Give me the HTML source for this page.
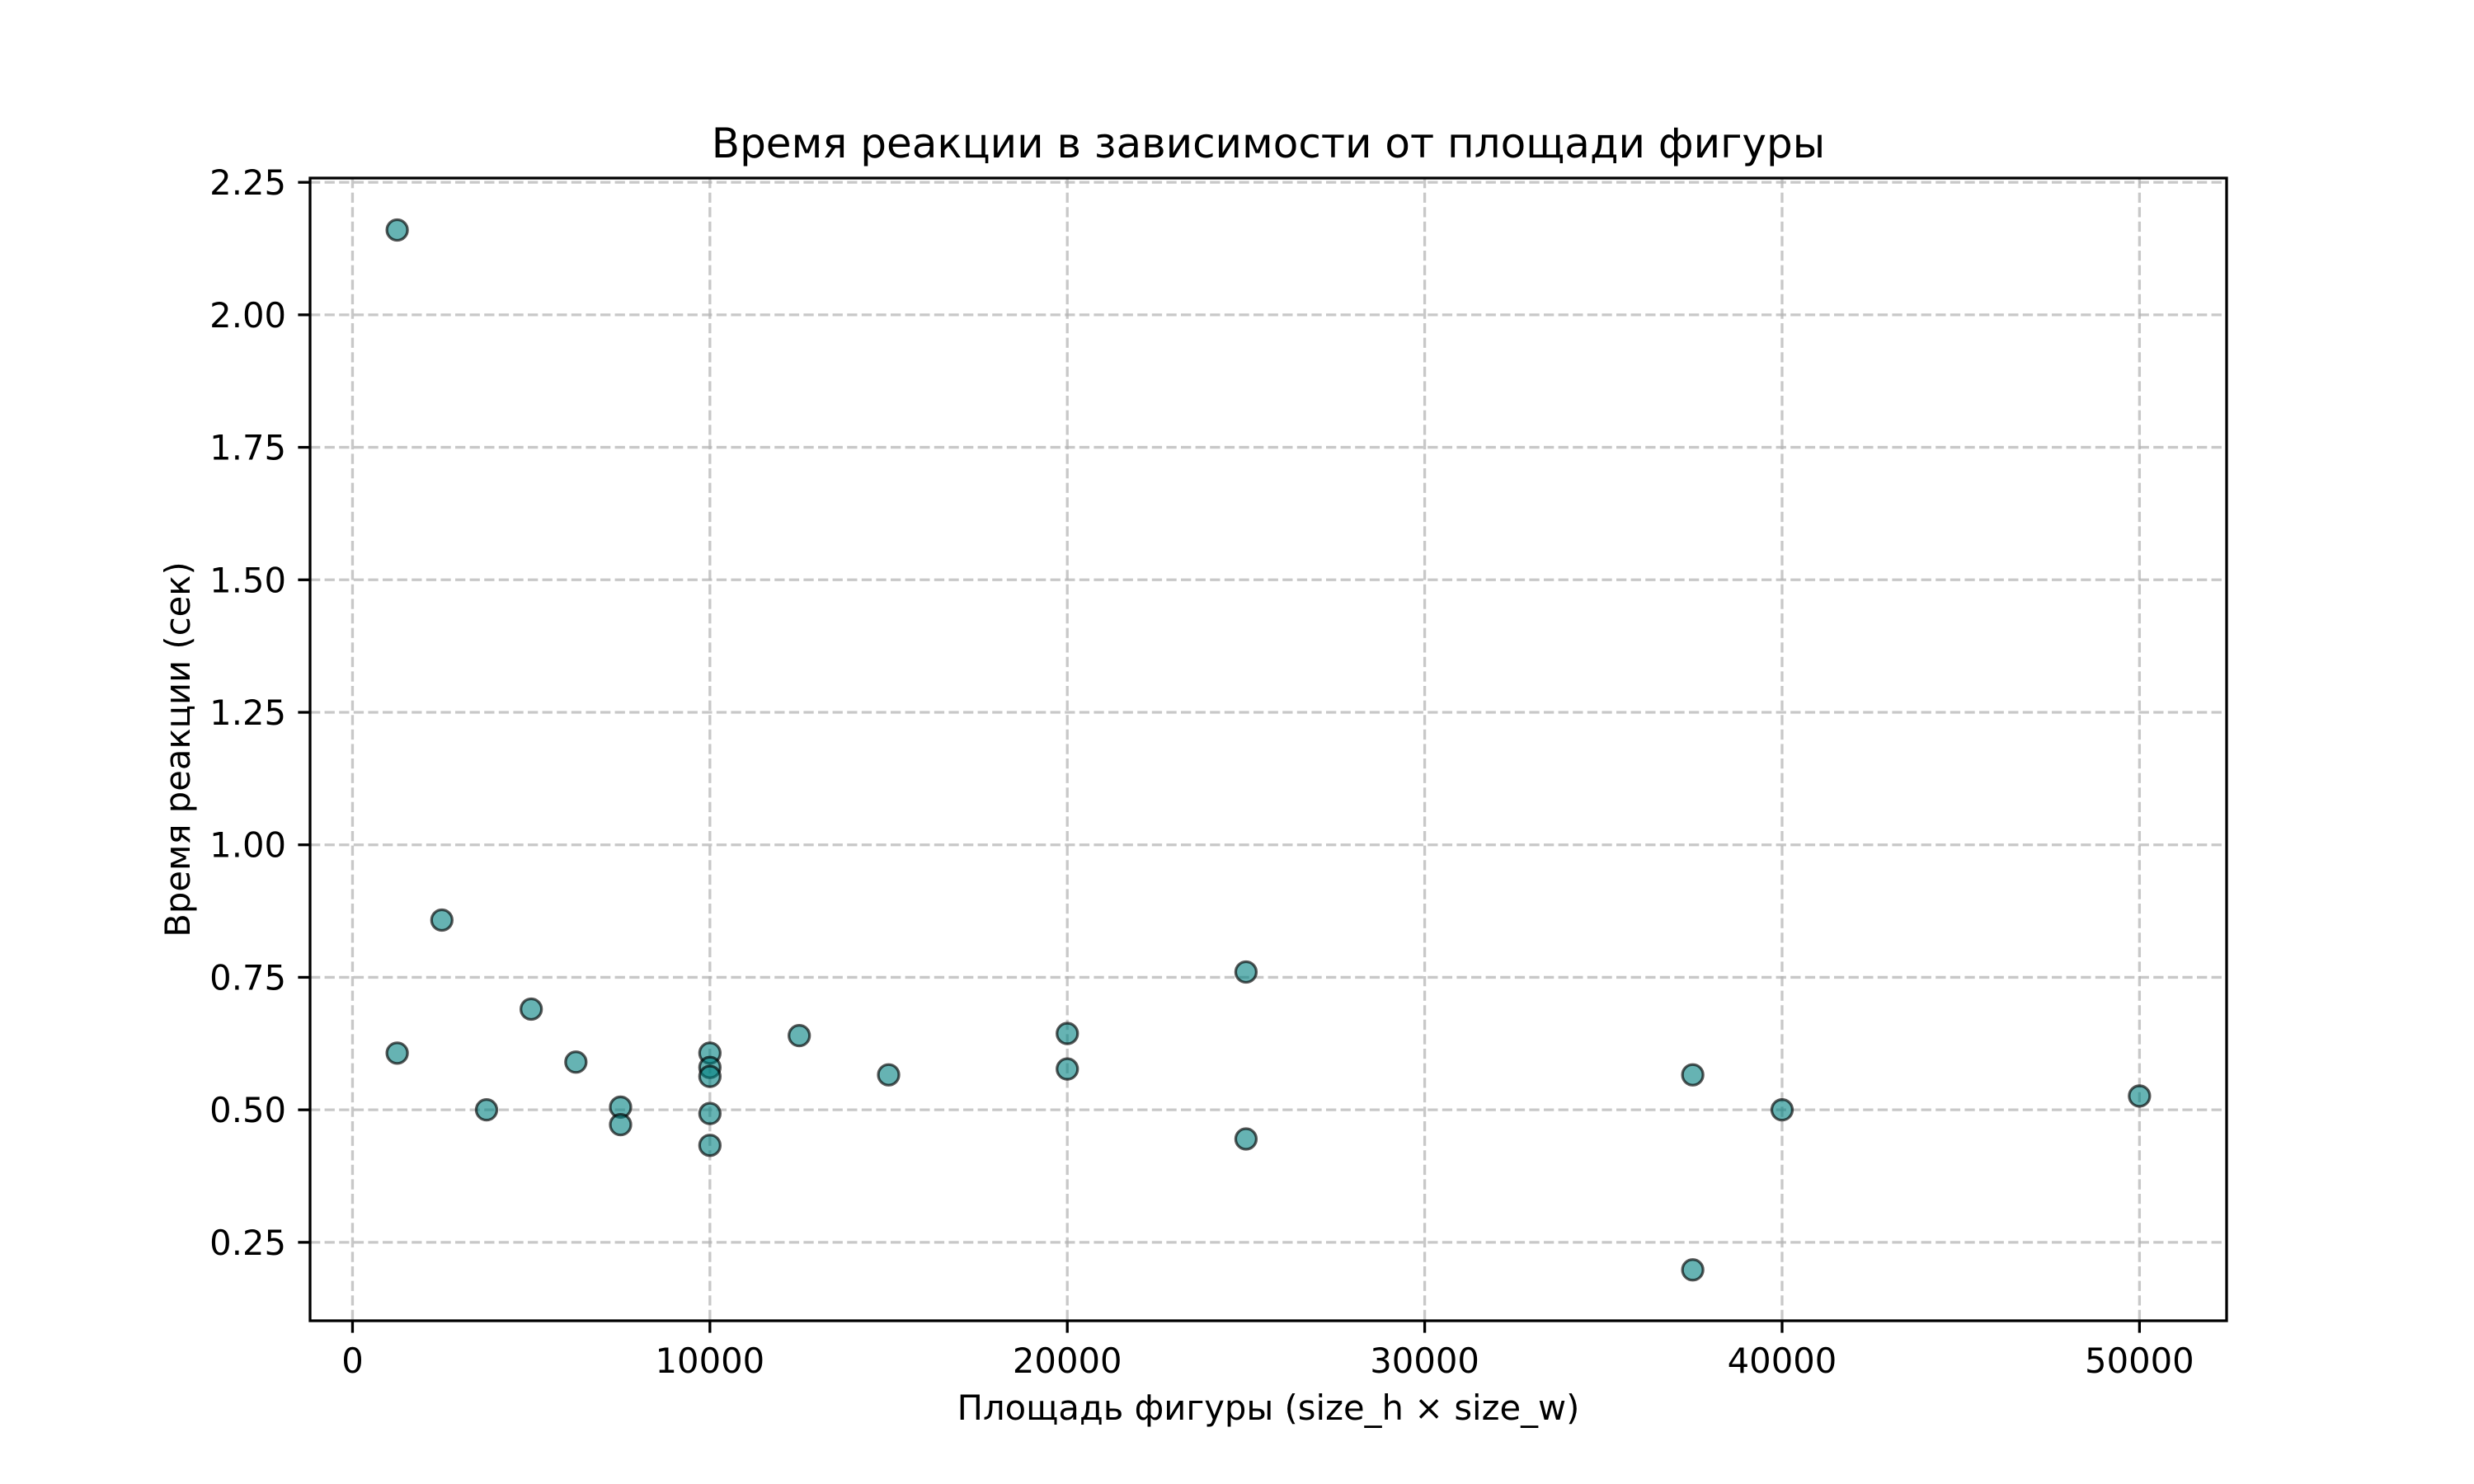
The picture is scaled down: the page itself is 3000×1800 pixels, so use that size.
<!DOCTYPE html>
<html><head><meta charset="utf-8"><style>
html,body{margin:0;padding:0;background:#fff;}
svg{display:block;font-family:"DejaVu Sans","Liberation Sans",sans-serif;}
</style></head><body>
<svg id="chart" width="3000" height="1800" viewBox="0 0 3000 1800" xmlns="http://www.w3.org/2000/svg">
<rect width="3000" height="1800" fill="#fff"/>
<g id="grid"></g>
<g id="points"></g>
<g id="axes"></g>
<text x="1538" y="191" text-anchor="middle" font-size="50">Время реакции в зависимости от площади фигуры</text>
<text x="1538" y="1722" text-anchor="middle" font-size="41.7">Площадь фигуры (size_h × size_w)</text>
<text transform="translate(230,909) rotate(-90)" text-anchor="middle" font-size="41.7">Время реакции (сек)</text>
</svg>
<script>
const areas = [1250,1250,2500,3750,5000,6250,7500,7500,10000,10000,10000,10000,10000,12500,15000,20000,20000,25000,25000,37500,37500,40000,50000];
const times = [2.16,0.607,0.858,0.50,0.69,0.59,0.505,0.472,0.607,0.58,0.563,0.493,0.433,0.64,0.566,0.644,0.577,0.76,0.445,0.566,0.198,0.50,0.526];
const xTicks = [0,10000,20000,30000,40000,50000];
const yTicks = [0.25,0.50,0.75,1.00,1.25,1.50,1.75,2.00,2.25];

const L=376,R=2700,T=216,B=1602;
const xMin=-1187.5,xMax=52437.5,yMin=0.102,yMax=2.258;
function sx(v){return L+(v-xMin)/(xMax-xMin)*(R-L);}
function sy(v){return B-(v-yMin)/(yMax-yMin)*(B-T);}
const NS='http://www.w3.org/2000/svg';
function mk(tag,attrs,parent){const e=document.createElementNS(NS,tag);for(const k in attrs)e.setAttribute(k,attrs[k]);parent.appendChild(e);return e;}
const grid=document.getElementById('grid'),pts=document.getElementById('points'),axes=document.getElementById('axes');
xTicks.forEach(v=>{
  const x=sx(v);
  const g=mk('line',{x1:x,x2:x,y1:T,y2:B,stroke:'#b0b0b0','stroke-opacity':0.7,'stroke-width':3.3,'stroke-dasharray':'12.3 5.3'},grid);
  
  
  const t=mk('line',{x1:x,x2:x,y1:B,y2:B+14.6,stroke:'#000','stroke-width':3.3},axes);
  
  
  const lb=mk('text',{x:x,y:B+63,'text-anchor':'middle','font-size':41.7},axes);
  lb.textContent=String(v);
  
  
});
yTicks.forEach(v=>{
  const y=sy(v);
  const g=mk('line',{x1:L,x2:R,y1:y,y2:y,stroke:'#b0b0b0','stroke-opacity':0.7,'stroke-width':3.3,'stroke-dasharray':'12.3 5.3'},grid);
  
  
  const t=mk('line',{x1:L-14.6,x2:L,y1:y,y2:y,stroke:'#000','stroke-width':3.3},axes);
  
  
  const lb=mk('text',{x:L-29,y:y+15,'text-anchor':'end','font-size':41.7},axes);
  lb.textContent=v.toFixed(2);
  
  
});
const frame=mk('rect',{x:L,y:T,width:R-L,height:B-T,fill:'none',stroke:'#000','stroke-width':3.3},axes);


areas.forEach((a,i)=>{
  const c=mk('circle',{cx:sx(a),cy:sy(times[i]),r:12.5,fill:'#008080','fill-opacity':0.6,stroke:'#000','stroke-opacity':0.65,'stroke-width':3.3},pts);
  
  
});
</script>
</body></html>
